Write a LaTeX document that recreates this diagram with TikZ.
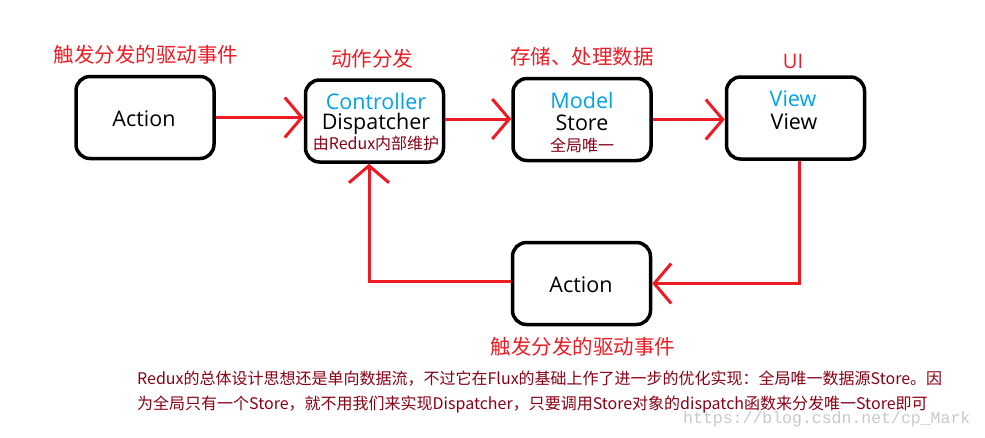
\documentclass[tikz,border=0pt]{standalone}
\usepackage{fontspec}
\setmainfont{Noto Sans CJK SC}
\newfontfamily\latinui{Open Sans}
\newfontfamily\wmfont{Liberation Mono}
\usetikzlibrary{arrows.meta,calc}
\definecolor{pred}{RGB}{237,28,36}
\definecolor{pblue}{RGB}{0,162,232}
\definecolor{pdark}{RGB}{136,0,21}
\definecolor{wmgray}{RGB}{200,200,200}
\tikzset{
  box/.style={draw=black, line width=3.5pt, rounded corners=14pt, minimum width=138pt, minimum height=82pt, inner sep=0pt},
  redlabel/.style={text=pred, font=\fontsize{20.5}{22}\selectfont, inner sep=0pt},
  boxtxt/.style={font=\latinui\fontsize{21.5}{22}\selectfont, inner sep=0pt, text height=14pt, text depth=3pt},
  bluetxt/.style={boxtxt, text=pblue},
  smalltxt/.style={text=pdark, font=\fontsize{16}{18}\selectfont, inner sep=0pt, text height=12pt, text depth=2pt},
  flow/.style={draw=pred, line width=3pt, -{Straight Barb[length=17pt,width=40pt,line width=3pt]}},
  para/.style={text=pdark, font=\fontsize{16}{18}\selectfont, inner sep=0pt, anchor=west, text height=12pt, text depth=3pt},
}
\begin{document}
\begin{tikzpicture}[x=1pt,y=-1pt]
\useasboundingbox (0,0) rectangle (985,437);
% boxes
\node[box] (a1) at (145,117.5) {};
\node[box] (disp) at (374.5,121) {};
\node[box] (store) at (582,119.5) {};
\node[box] (view) at (795.5,118) {};
\node[box] (a2) at (581.5,283.5) {};
% box texts
\node[boxtxt] (a1t) at (144,120.5) {Action};
\node[bluetxt] (dispc) at (376,104) {Controller};
\node[boxtxt] (dispd) at (376,124) {Dispatcher};
\node[smalltxt] (dispr) at (376,144) {由Redux内部维护};
\node[bluetxt] (storem) at (582,103) {Model};
\node[boxtxt] (stores) at (582,124.5) {Store};
\node[smalltxt] (storeu) at (582,146) {全局唯一};
\node[bluetxt] (viewb) at (793,101) {View};
\node[boxtxt] (viewv) at (794,124) {View};
\node[boxtxt] (a2t) at (581,286.5) {Action};
% red labels
\node[redlabel] (l1) at (146,55) {触发分发的驱动事件};
\node[redlabel] (l2) at (372,59) {动作分发};
\node[redlabel] (l3) at (582,57) {存储、处理数据};
\node[redlabel, font=\latinui\fontsize{20}{22}\selectfont] (l4) at (793,61) {UI};
\node[redlabel] (l5) at (583,347) {触发分发的驱动事件};
% connectors
\draw[flow] (a1.east) -- (a1.east -| disp.west);
\draw[flow] ($(disp.east)+(0,-2)$) -- ($(disp.east -| store.west)+(0,-2)$);
\draw[flow] (store.east) -- (store.east -| view.west);
\draw[flow] ([xshift=4pt]view.south) |- (a2.east);
\draw[flow] ([yshift=2pt]a2.west) -| ([xshift=-5.5pt]disp.south);
% paragraph
\node[para] (p1) at (137,380) {Redux的总体设计思想还是单向数据流，不过它在Flux的基础上作了进一步的优化实现：全局唯一数据源Store。因};
\node[para] (p2) at (137,405) {为全局只有一个Store，就不用我们来实现Dispatcher，只要调用Store对象的dispatch函数来分发唯一Store即可};
\node[text=wmgray, font=\wmfont\fontsize{16.5}{18}\selectfont, inner sep=0pt, anchor=west, text height=10pt, text depth=3pt] (wm) at (683,420) {https://blog.csdn.net/cp\_Mark};
\end{tikzpicture}
\end{document}
